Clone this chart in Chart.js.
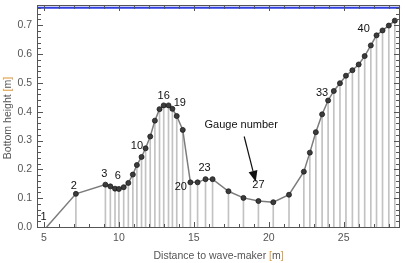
<!DOCTYPE html>
<html>
<head>
<meta charset="utf-8">
<script src="https://cdn.jsdelivr.net/npm/chart.js@4.4.1/dist/chart.umd.min.js"></script>
<style>
  html, body { margin: 0; padding: 0; background: #fff; }
  #wrap { width: 405px; height: 263px; }
</style>
</head>
<body>
<div id="wrap"><canvas id="profile"></canvas></div>
<script>
// gauge positions along the flume [m]
const gaugeX = [5.18, 7.13, 9.10, 9.43, 9.74, 10.00, 10.32, 10.63, 10.93, 11.20,
                11.51, 11.78, 12.09, 12.40, 12.71, 12.99, 13.31, 13.57, 13.86, 14.26,
                14.77, 15.25, 15.78, 16.25, 17.31, 18.31, 19.31, 20.30, 21.35, 22.34,
                22.74, 23.14, 23.56, 23.96, 24.34, 24.75, 25.15, 25.58, 26.00, 26.40,
                26.81, 27.19, 27.59, 28.01, 28.41];
// bottom height at each gauge [m]
const gaugeH = [0.000, 0.115, 0.147, 0.141, 0.133, 0.132, 0.138, 0.153, 0.182, 0.215,
                0.243, 0.273, 0.314, 0.369, 0.409, 0.422, 0.422, 0.410, 0.385, 0.337,
                0.155, 0.155, 0.166, 0.166, 0.124, 0.101, 0.090, 0.086, 0.112, 0.192,
                0.258, 0.329, 0.391, 0.439, 0.472, 0.499, 0.525, 0.544, 0.564, 0.593,
                0.630, 0.665, 0.682, 0.699, 0.716];
const waterLevel = 0.761;
const xTicks = [5, 10, 15, 20, 25];
const yTicks = [0, 0.1, 0.2, 0.3, 0.4, 0.5, 0.6, 0.7];
const labelledGauges = [1, 2, 3, 6, 10, 16, 19, 20, 23, 27, 33, 40];
const xTitle = 'Distance to wave-maker';
const yTitle = 'Bottom height';
const unit = 'm';

// axis range
const xMin = 4.535, xMax = 28.77;
const yMin = 0, yMax = 0.771;

// where the gauge numbers sit, in pixels from their point
const labelShift = [[-3, -10], [-2, -8], [-1, -11], [-1, -13], [0, -19], [0, -9],
                    [3, -13], [-2, 57], [-1, -11], [0, -16], [0, -21], [-1, -27]];
// "Gauge number" note and its arrow, in data units
const noteAt = {x: 18.16, y: 0.354};
const arrowFrom = {x: 18.36, y: 0.314};
const arrowTo = {x: 19.13, y: 0.157};

const points = gaugeX.map((x, i) => ({x: x, y: gaugeH[i]}));

const FONT = '"Liberation Sans", Arial, sans-serif';
const TXT = '#555';
const BRACKET = '#e09a3c';

// title text with the unit brackets in orange, drawn centred at (0, 0)
function drawTitle(ctx, label) {
  const parts = [[label + ' ', TXT], ['[', BRACKET], [unit, TXT], [']', BRACKET]];
  const total = parts.reduce((w, p) => w + ctx.measureText(p[0]).width, 0);
  let px = -total / 2;
  ctx.textAlign = 'left';
  ctx.textBaseline = 'middle';
  parts.forEach(p => {
    ctx.fillStyle = p[1];
    ctx.fillText(p[0], px, 0);
    px += ctx.measureText(p[0]).width;
  });
}

// frame with inward ticks, axis titles, gauge numbers and the arrow note
const overlayPlugin = {
  id: 'overlay',
  afterDraw(chart) {
    const ctx = chart.ctx;
    const a = chart.chartArea;
    const xs = chart.scales.x, ys = chart.scales.y;
    const L = Math.round(a.left), R = Math.round(a.right) - 1;
    const T = Math.round(a.top), B = Math.round(a.bottom);
    ctx.save();
    ctx.fillStyle = '#555';
    ctx.fillRect(L, T, 1, B - T + 1);
    ctx.fillRect(R, T, 1, B - T + 1);
    ctx.fillRect(L, T, R - L + 1, 1);
    ctx.fillRect(L, B, R - L + 1, 1);
    for (let v = 5; v <= 28; v++) {
      const px = Math.round(xs.getPixelForValue(v));
      const len = v % 5 === 0 ? 5 : 3;
      ctx.fillRect(px, B - len, 1, len);
      ctx.fillRect(px, T + 1, 1, len);
    }
    for (let k = 0; k <= 38; k++) {
      const py = Math.round(ys.getPixelForValue(k * 0.02));
      const len = k % 5 === 0 ? 5 : 3;
      ctx.fillRect(L + 1, py, len, 1);
      ctx.fillRect(R - len, py, len, 1);
    }

    // axis titles
    ctx.font = '10.5px ' + FONT;
    ctx.save();
    ctx.translate((a.left + a.right) / 2, 256);
    drawTitle(ctx, xTitle);
    ctx.restore();
    ctx.save();
    ctx.translate(8.5, 118);
    ctx.rotate(-Math.PI / 2);
    drawTitle(ctx, yTitle);
    ctx.restore();

    // gauge numbers
    ctx.fillStyle = '#111';
    ctx.font = '11px ' + FONT;
    ctx.textAlign = 'center';
    ctx.textBaseline = 'middle';
    labelledGauges.forEach((g, i) => {
      const px = xs.getPixelForValue(gaugeX[g - 1]) + labelShift[i][0];
      const py = ys.getPixelForValue(gaugeH[g - 1]) + labelShift[i][1];
      ctx.fillText(String(g), px, py);
    });
    ctx.fillText('Gauge number', xs.getPixelForValue(noteAt.x), ys.getPixelForValue(noteAt.y));

    const x0 = xs.getPixelForValue(arrowFrom.x), y0 = ys.getPixelForValue(arrowFrom.y);
    const x1 = xs.getPixelForValue(arrowTo.x), y1 = ys.getPixelForValue(arrowTo.y);
    const ang = Math.atan2(y1 - y0, x1 - x0);
    const head = 11, half = 4.5;
    const bx = x1 - head * Math.cos(ang), by = y1 - head * Math.sin(ang);
    ctx.strokeStyle = '#111';
    ctx.lineWidth = 1.2;
    ctx.beginPath();
    ctx.moveTo(x0, y0);
    ctx.lineTo(bx, by);
    ctx.stroke();
    ctx.beginPath();
    ctx.moveTo(x1, y1);
    ctx.lineTo(bx + half * Math.sin(ang), by - half * Math.cos(ang));
    ctx.lineTo(bx - half * Math.sin(ang), by + half * Math.cos(ang));
    ctx.closePath();
    ctx.fill();
    ctx.restore();
  }
};

const config = {
  type: 'line',
  data: {
    datasets: [
      {
        label: 'Water level',
        data: [{x: xMin, y: waterLevel}, {x: xMax, y: waterLevel}],
        borderColor: '#2f3fe0',
        borderWidth: 2,
        pointRadius: 0,
        order: 2
      },
      {
        label: 'Bottom',
        data: points,
        borderColor: '#7c7c7c',
        borderWidth: 1.5,
        tension: 0,
        pointRadius: ctx => (ctx.raw && ctx.raw.y > 0 ? 2.5 : 0),
        pointBackgroundColor: '#3c3c3c',
        pointBorderColor: '#1c1c1c',
        pointBorderWidth: 0.8,
        order: 1
      },
      {
        type: 'bar',
        label: 'Stems',
        data: points,
        backgroundColor: '#c2c2c2',
        barThickness: 1,
        order: 3
      }
    ]
  },
  options: {
    responsive: false,
    animation: false,
    events: [],
    layout: {padding: {top: 1, right: 3, left: 0, bottom: 0}},
    plugins: {legend: {display: false}, tooltip: {enabled: false}},
    scales: {
      x: {
        type: 'linear',
        offset: false,
        min: xMin,
        max: xMax,
        grid: {display: false, drawTicks: false, offset: false},
        border: {display: false},
        afterBuildTicks: s => { s.ticks = xTicks.map(v => ({value: v})); },
        afterFit: s => { s.height = 36; s.paddingLeft = 0; s.paddingRight = 0; },
        ticks: {color: TXT, font: {family: FONT, size: 10.5}, padding: 5, maxRotation: 0}
      },
      y: {
        type: 'linear',
        min: yMin,
        max: yMax,
        grid: {display: false, drawTicks: false},
        border: {display: false},
        afterBuildTicks: s => { s.ticks = yTicks.map(v => ({value: v})); },
        afterFit: s => { s.width = 37; s.paddingTop = 0; s.paddingBottom = 0; },
        ticks: {color: TXT, font: {family: FONT, size: 10.5}, padding: 5,
                callback: v => v.toFixed(1)}
      }
    }
  },
  plugins: [overlayPlugin]
};

const canvas = document.getElementById('profile');
canvas.width = 405;
canvas.height = 263;
const bottomChart = new Chart(canvas, config);
</script>
</body>
</html>
